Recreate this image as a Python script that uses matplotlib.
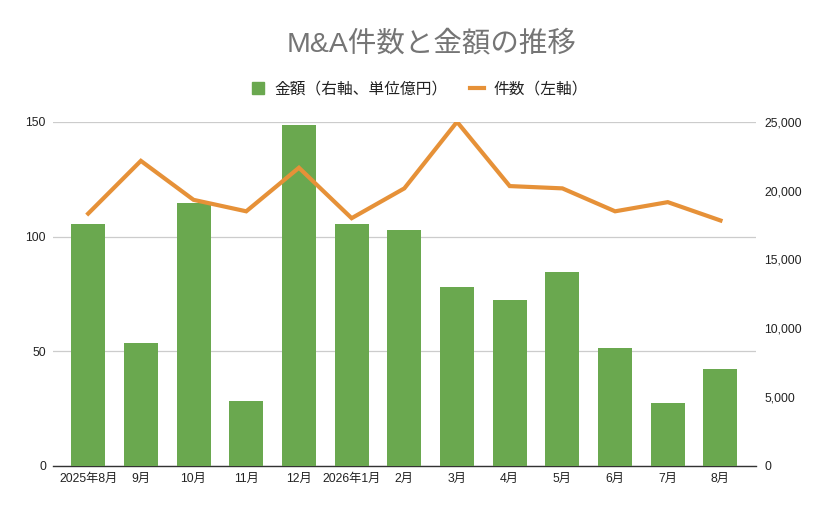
import numpy as np
import matplotlib.pyplot as plt
from matplotlib.lines import Line2D

plt.rcParams['font.family'] = ['Liberation Sans', 'Noto Sans CJK JP']

# データ
months = ['2025年8月', '9月', '10月', '11月', '12月', '2026年1月', '2月',
          '3月', '4月', '5月', '6月', '7月', '8月']
amount = [17580, 8920, 19100, 4730, 24800, 17580, 17170,
          13000, 12050, 14090, 8560, 4560, 7030]   # 金額(億円, 右軸)
count = [110, 133, 116, 111, 130, 108, 121, 150, 122, 121, 111, 115, 107]  # 件数(左軸)

GREEN = '#6aa84f'
ORANGE = '#e69138'
TEXT = '#222222'

fig = plt.figure(figsize=(8.26, 5.12), dpi=100)
ax = fig.add_axes([0.064, 0.090, 0.851, 0.672])
ax2 = ax.twinx()

x = np.arange(len(months))

# 棒: 金額(右軸)
ax2.bar(x, amount, width=0.645, color=GREEN, zorder=2)
ax2.set_ylim(0, 25000)
ax2.set_yticks([0, 5000, 10000, 15000, 20000, 25000])
ax2.set_yticklabels([f'{v:,}' for v in [0, 5000, 10000, 15000, 20000, 25000]])

# 折れ線: 件数(左軸)
ax.set_ylim(0, 150)
ax.set_yticks([0, 50, 100, 150])
ax.grid(axis='y', color='#cccccc', linewidth=0.9)
ax.set_axisbelow(True)

ax3 = ax.twinx()
ax3.set_ylim(0, 150)
ax3.axis('off')
ax3.plot(x, count, color=ORANGE, linewidth=3, solid_joinstyle='miter', zorder=3)

for a in (ax, ax2, ax3):
    a.set_xlim(-0.67, 12.67)
    for s in a.spines.values():
        s.set_visible(False)

ax.spines['bottom'].set_visible(True)
ax.spines['bottom'].set_color('#333333')
ax.spines['bottom'].set_linewidth(1.0)

ax.set_xticks(x)
ax.set_xticklabels(months)
ax.tick_params(axis='both', length=0, labelsize=8.8, colors=TEXT, pad=5)
ax.tick_params(axis='y', pad=5)
ax2.tick_params(axis='y', length=0, labelsize=8.8, colors=TEXT, pad=6)

fig.text(0.522, 0.913, 'M&A件数と金額の推移', ha='center', va='center',
         fontsize=20.5, color='#757575', family=['Liberation Sans', 'Noto Sans CJK JP'])

handles = [
    Line2D([], [], marker='s', linestyle='none', markersize=9,
           markerfacecolor=GREEN, markeredgecolor=GREEN),
    Line2D([], [], color=ORANGE, linewidth=3),
]
fig.legend(handles, ['金額（右軸、単位億円）', '件数（左軸）'],
           loc='center', bbox_to_anchor=(0.508, 0.827), ncol=2, frameon=False,
           fontsize=11.3, handlelength=0.9, handletextpad=0.6, columnspacing=1.4,
           labelcolor=TEXT, prop={'family': ['Noto Sans CJK JP'], 'size': 11.3})

fig.savefig('out.png', dpi=100)
